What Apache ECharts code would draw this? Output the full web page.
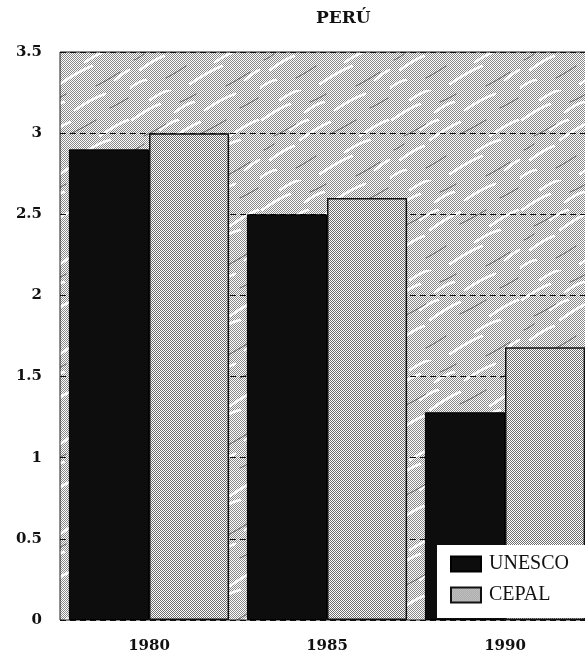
<!DOCTYPE html>
<html><head><meta charset="utf-8">
<script src="https://cdn.jsdelivr.net/npm/echarts@6/dist/echarts.min.js"></script>
<style>html,body{margin:0;padding:0;background:#fff;overflow:hidden}#c{width:600px;height:668px}</style>
</head><body><div id="c"></div>
<script>
const categories = ['1980', '1985', '1990'];
const unesco = [2.9, 2.5, 1.28];
const cepal = [3.0, 2.6, 1.68];
const yTicks = [0, 0.5, 1, 1.5, 2, 2.5, 3, 3.5];

function makePattern(kind) {
  const W = 130, H = 90;
  const c = document.createElement('canvas');
  c.width = W; c.height = H;
  const g = c.getContext('2d');
  g.fillStyle = '#fff'; g.fillRect(0, 0, W, H);
  g.fillStyle = kind === 'bg' ? '#888' : '#6e6e6e';
  for (let y = 0; y < H; y++) for (let x = 0; x < W; x++) if ((x + y) % 2 === 0) g.fillRect(x, y, 1, 1);
  if (kind === 'bg') {
    const streaks = [
      [2,30,30,14],[40,50,70,32],[75,20,105,4],[10,70,34,56],[60,84,92,66],[100,46,128,30],
      [20,10,40,0],[85,62,110,50],[0,88,16,80],[45,22,64,12],[115,80,130,70],[30,40,48,30]
    ];
    g.lineCap = 'round';
    g.strokeStyle = 'rgba(255,255,255,0.95)'; g.lineWidth = 2.5;
    streaks.forEach(s => { g.beginPath(); g.moveTo(s[0], s[1]); g.quadraticCurveTo((s[0]+s[2])/2 + 3, (s[1]+s[3])/2 - 4, s[2], s[3]); g.stroke(); });
    g.strokeStyle = 'rgba(20,20,20,0.55)'; g.lineWidth = 1;
    const dark = [[14,46,36,34],[50,12,66,4],[70,44,96,30],[96,86,120,72],[4,60,14,54],[110,18,128,8],[36,78,56,66]];
    dark.forEach(s => { g.beginPath(); g.moveTo(s[0], s[1]); g.quadraticCurveTo((s[0]+s[2])/2 - 2, (s[1]+s[3])/2 + 2, s[2], s[3]); g.stroke(); });
  }
  return c;
}
const bgPat = { image: makePattern('bg'), repeat: 'repeat' };
const barPat = { image: makePattern('bar'), repeat: 'repeat' };

const serifW = '"DejaVu Serif", serif';
const serifT = '"Liberation Serif", "Times New Roman", serif';
const chart = echarts.init(document.getElementById('c'), null, { renderer: 'canvas' });
chart.setOption({
  animation: false,
  backgroundColor: '#fff',
  title: { text: 'PERÚ', left: 311, top: 5, textStyle: { fontFamily: serifW, fontWeight: 'bold', fontSize: 17, color: '#111' } },
  grid: { left: 60, top: 52, width: 534, bottom: 48, show: true, backgroundColor: bgPat, borderColor: '#222', borderWidth: 1 },
  legend: {
    left: 437, top: 545, orient: 'vertical', backgroundColor: '#fff', padding: [9, 35, 13, 13],
    itemWidth: 30, itemHeight: 15, itemGap: 11, icon: 'rect',
    textStyle: { fontFamily: serifT, fontSize: 20, color: '#111', padding: [0, 0, 0, 3] },
    data: [{ name: 'UNESCO' }, { name: 'CEPAL' }]
  },
  xAxis: {
    type: 'category', data: categories,
    axisLine: { show: false }, axisTick: { show: false },
    axisLabel: { fontFamily: serifW, fontWeight: 'bold', fontSize: 15, color: '#111', margin: 19 }
  },
  yAxis: {
    type: 'value', min: 0, max: 3.5, interval: 0.5,
    axisLine: { show: false }, axisTick: { show: false },
    axisLabel: { fontFamily: serifW, fontWeight: 'bold', fontSize: 15, color: '#111', margin: 18,
      formatter: v => yTicks.includes(v) ? String(v) : '' },
    splitLine: { lineStyle: { color: '#111', type: [6, 4], width: 1 } }
  },
  series: [
    { name: 'UNESCO', type: 'bar', data: unesco, barGap: '0%', barCategoryGap: '10%',
      itemStyle: { color: '#0d0d0d', borderColor: '#000', borderWidth: 1 } },
    { name: 'CEPAL', type: 'bar', data: cepal,
      itemStyle: { color: barPat, borderColor: '#111', borderWidth: 1.5 } }
  ]
});
</script></body></html>
